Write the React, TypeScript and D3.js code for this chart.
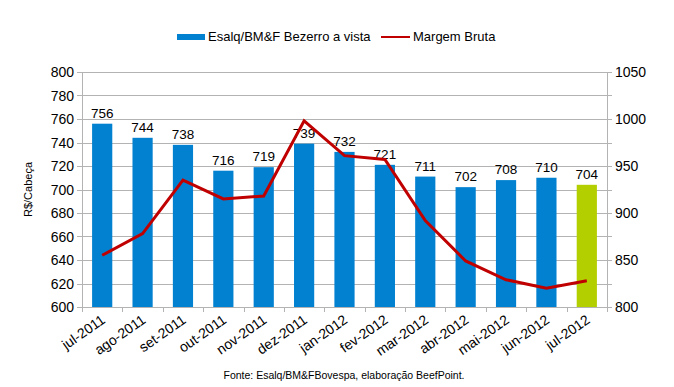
import * as d3 from "d3";
import { useEffect, useRef } from "react";

const WIDTH = 674;
const HEIGHT = 387;
const MARGIN = { top: 72, right: 67, bottom: 80, left: 82 };

const MONTHS = [
  "jul-2011",
  "ago-2011",
  "set-2011",
  "out-2011",
  "nov-2011",
  "dez-2011",
  "jan-2012",
  "fev-2012",
  "mar-2012",
  "abr-2012",
  "mai-2012",
  "jun-2012",
  "jul-2012",
];
const BEZERRO = [756, 744, 738, 716, 719, 739, 732, 721, 711, 702, 708, 710, 704];
const MARGEM = [855, 878, 935, 915, 918, 998, 961, 957, 892, 849, 829, 820, 828];
const LEFT_TICKS = d3.range(600, 801, 20);
const RIGHT_TICKS = [800, 850, 900, 950, 1000, 1050];

const BLUE = "#0281d0";
const GREEN = "#b3cf00";
const RED = "#c00000";
const GRID = "#b3b3b3";
const FONT = "'Liberation Sans', Arial, sans-serif";

export default function App() {
  const svgRef = useRef<SVGSVGElement>(null);

  useEffect(() => {
    if (!svgRef.current) return;
    const svg = d3.select(svgRef.current);
    svg.selectAll("*").remove();

    const x0 = MARGIN.left;
    const x1 = WIDTH - MARGIN.right;
    const yTop = MARGIN.top;
    const yBot = HEIGHT - MARGIN.bottom;

    const x = d3.scaleBand().domain(MONTHS).range([x0, x1]).paddingInner(0.5).paddingOuter(0.25);
    const y = d3.scaleLinear().domain([600, 800]).range([yBot, yTop]);
    const y2 = d3.scaleLinear().domain([800, 1050]).range([yBot, yTop]);

    // grade
    svg
      .append("g")
      .selectAll("line")
      .data(LEFT_TICKS)
      .enter()
      .append("line")
      .attr("x1", x0 - 5)
      .attr("x2", x1 + 5)
      .attr("y1", (d) => Math.round(y(d)) + 0.5)
      .attr("y2", (d) => Math.round(y(d)) + 0.5)
      .attr("stroke", GRID);

    // eixos verticais
    [x0, x1].forEach((xx) => {
      svg
        .append("line")
        .attr("x1", xx + 0.5)
        .attr("x2", xx + 0.5)
        .attr("y1", yTop)
        .attr("y2", yBot + 1)
        .attr("stroke", GRID);
    });

    // ticks do eixo x (entre categorias)
    const step = x.step();
    const xTicks = d3.range(MONTHS.length + 1).map((i) => x0 + i * step);
    svg
      .append("g")
      .selectAll("line")
      .data(xTicks)
      .enter()
      .append("line")
      .attr("x1", (d) => Math.round(d) + 0.5)
      .attr("x2", (d) => Math.round(d) + 0.5)
      .attr("y1", yBot)
      .attr("y2", yBot + 5)
      .attr("stroke", GRID);

    // barras
    svg
      .append("g")
      .selectAll("rect")
      .data(BEZERRO)
      .enter()
      .append("rect")
      .attr("x", (_, i) => x(MONTHS[i])!)
      .attr("y", (d) => y(d))
      .attr("width", x.bandwidth())
      .attr("height", (d) => yBot - y(d))
      .attr("fill", (_, i) => (i === MONTHS.length - 1 ? GREEN : BLUE));

    // rótulos das barras
    svg
      .append("g")
      .selectAll("text")
      .data(BEZERRO)
      .enter()
      .append("text")
      .attr("x", (_, i) => x(MONTHS[i])! + x.bandwidth() / 2)
      .attr("y", (d) => y(d) - 6)
      .attr("text-anchor", "middle")
      .attr("font-family", FONT)
      .attr("font-size", 13.5)
      .attr("fill", "#000")
      .text((d) => d);

    // linha margem bruta
    const line = d3
      .line<number>()
      .x((_, i) => x(MONTHS[i])! + x.bandwidth() / 2)
      .y((d) => y2(d));
    svg
      .append("path")
      .datum(MARGEM)
      .attr("d", line)
      .attr("fill", "none")
      .attr("stroke", RED)
      .attr("stroke-width", 3);

    // rótulos eixo esquerdo
    svg
      .append("g")
      .selectAll("text")
      .data(LEFT_TICKS)
      .enter()
      .append("text")
      .attr("x", x0 - 8)
      .attr("y", (d) => y(d) + 5)
      .attr("text-anchor", "end")
      .attr("font-family", FONT)
      .attr("font-size", 14)
      .text((d) => d);

    // rótulos eixo direito
    svg
      .append("g")
      .selectAll("text")
      .data(RIGHT_TICKS)
      .enter()
      .append("text")
      .attr("x", x1 + 8)
      .attr("y", (d) => y2(d) + 5)
      .attr("font-family", FONT)
      .attr("font-size", 14)
      .text((d) => d);

    // rótulos do eixo x
    svg
      .append("g")
      .selectAll("text")
      .data(MONTHS)
      .enter()
      .append("text")
      .attr("transform", (d) => `translate(${x(d)! + x.bandwidth() / 2 + 4},${yBot + 15}) rotate(-35)`)
      .attr("text-anchor", "end")
      .attr("font-family", FONT)
      .attr("font-size", 14)
      .text((d) => d);

    // título eixo y
    svg
      .append("text")
      .attr("transform", `translate(32,${(yTop + yBot) / 2}) rotate(-90)`)
      .attr("text-anchor", "middle")
      .attr("font-family", FONT)
      .attr("font-size", 11)
      .text("R$/Cabeça");

    // legenda
    const lg = svg.append("g").attr("font-family", FONT).attr("font-size", 13);
    lg.append("rect").attr("x", 177).attr("y", 34).attr("width", 28).attr("height", 6).attr("fill", BLUE);
    lg.append("text").attr("x", 208).attr("y", 41).text("Esalq/BM&F Bezerro a vista");
    lg.append("line")
      .attr("x1", 381)
      .attr("x2", 410)
      .attr("y1", 37)
      .attr("y2", 37)
      .attr("stroke", RED)
      .attr("stroke-width", 2);
    lg.append("text").attr("x", 413).attr("y", 41).text("Margem Bruta");

    // fonte
    svg
      .append("text")
      .attr("x", 344)
      .attr("y", 379)
      .attr("text-anchor", "middle")
      .attr("font-family", FONT)
      .attr("font-size", 10.5)
      .text("Fonte: Esalq/BM&FBovespa, elaboração BeefPoint.");
  }, []);

  return (
    <svg
      ref={svgRef}
      width={WIDTH}
      height={HEIGHT}
      style={{ position: "absolute", left: 0, top: 0, background: "#fff" }}
    />
  );
}
